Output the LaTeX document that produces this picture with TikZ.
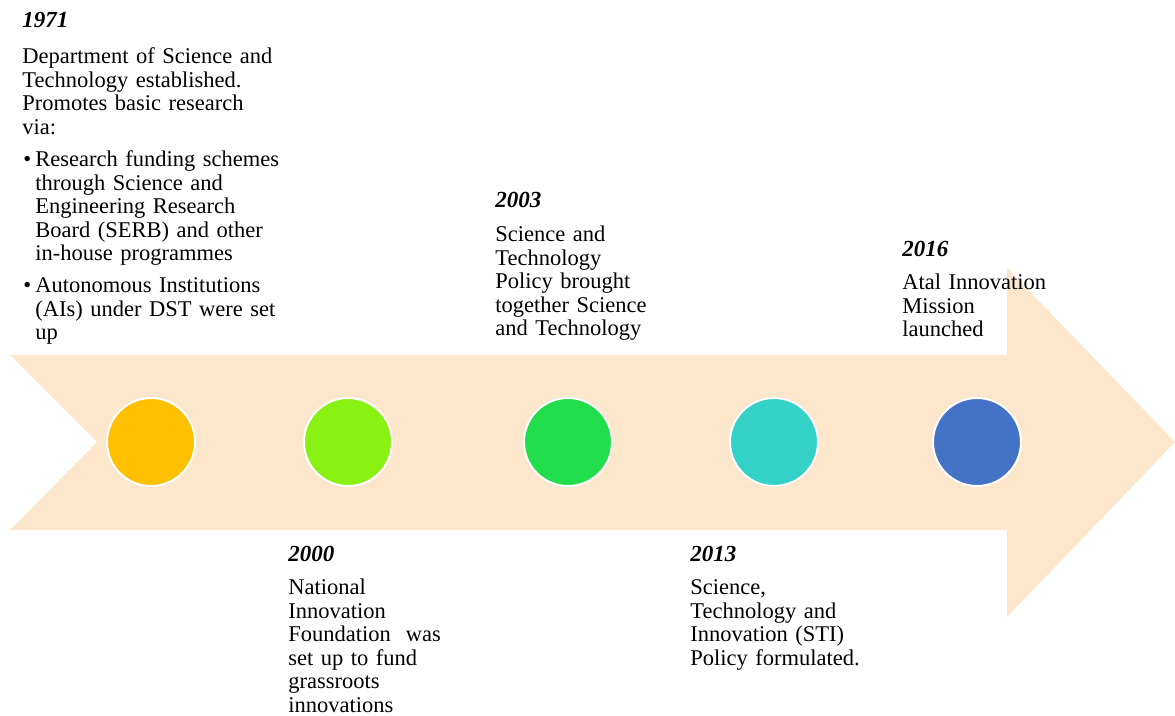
\documentclass[tikz,border=0pt]{standalone}
\usepackage{fontspec}
\setmainfont{Liberation Serif}
\usepackage{tikz}
\definecolor{arrowfill}{RGB}{253,231,204}
\definecolor{dotA}{RGB}{255,192,0}
\definecolor{dotB}{RGB}{138,242,18}
\definecolor{dotC}{RGB}{34,221,76}
\definecolor{dotD}{RGB}{51,209,198}
\definecolor{dotE}{RGB}{68,114,196}
\tikzset{
	year/.style={anchor=base west, inner sep=0pt, font=\fontsize{11.5}{11.75}\selectfont\bfseries\itshape},
	body/.style={anchor=base west, inner sep=0pt, text width=150pt, align=left, font=\fontsize{11.25}{11.75}\selectfont},
	bul/.style={anchor=base west, inner sep=0pt, font=\fontsize{11.25}{11.75}\selectfont},
	dot/.style={circle, draw=white, line width=1pt, minimum size=44pt, inner sep=0pt}
}

\begin{document}
\begin{tikzpicture}[x=0.5pt, y=-0.5pt]
			%%%%% START %%%%%
			
			\useasboundingbox (0, 0) rectangle (1175, 716);
			
			\fill[arrowfill] (10, 355) -- (1007, 355) -- (1007, 268) -- (1175, 442) -- (1007, 617) -- (1007, 530) -- (10, 530) -- (97, 442) -- cycle;
			
			\node[dot, fill=dotA] (d1971) at (151, 442) {};
			\node[dot, fill=dotB] (d2000) at (348, 442) {};
			\node[dot, fill=dotC] (d2003) at (568, 442) {};
			\node[dot, fill=dotD] (d2013) at (774, 442) {};
			\node[dot, fill=dotE] (d2016) at (977, 442) {};
			
			\node[year] (y1971) at (22, 28) {1971};
			\node[body] (t1971) at (22, 64) {Department of Science and\\Technology established.\\Promotes basic research\\via:};
			\node[bul] (p1) at (23, 167) {\textbullet};
			\node[body] (t1971a) at (35, 167) {Research funding schemes\\through Science and\\Engineering Research\\Board (SERB) and other\\in-house programmes};
			\node[bul] (p2) at (23, 293) {\textbullet};
			\node[body] (t1971b) at (35, 293) {Autonomous Institutions\\(AIs) under DST were set\\up};
			
			\node[year] (y2000) at (288, 562) {2000};
			\node[body] (t2000) at (288, 595) {National\\Innovation\\Foundation\ \ was\\set up to fund\\grassroots\\innovations};
			
			\node[year] (y2003) at (495, 208) {2003};
			\node[body] (t2003) at (495, 242) {Science and\\Technology\\Policy brought\\together Science\\and Technology};
			
			\node[year] (y2013) at (690, 562) {2013};
			\node[body] (t2013) at (690, 595) {Science,\\Technology and\\Innovation (STI)\\Policy formulated.};
			
			\node[year] (y2016) at (902, 257) {2016};
			\node[body] (t2016) at (902, 290) {Atal Innovation\\Mission\\launched};
			
			%%%%% END %%%%%
\end{tikzpicture}
\end{document}
